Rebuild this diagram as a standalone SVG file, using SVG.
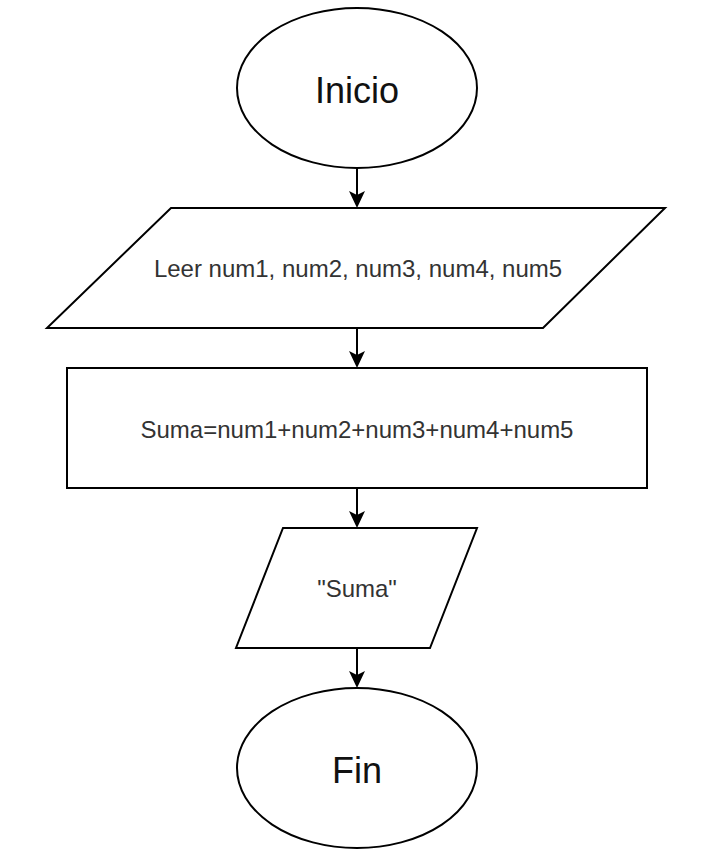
<svg xmlns="http://www.w3.org/2000/svg" width="724" height="868" viewBox="0 0 724 868">
  <style>
    .shape { fill: #ffffff; stroke: #000000; stroke-width: 2; }
    .edge { fill: none; stroke: #000000; stroke-width: 2; }
    .big { font-family: "Liberation Sans", Arial, sans-serif; font-size: 36px; fill: #111111; text-anchor: middle; }
    .small { font-family: "Liberation Sans", Arial, sans-serif; font-size: 24px; fill: #333333; text-anchor: middle; }
  </style>
  <defs>
    <marker id="arrow" viewBox="0 0 17 16" refX="9" refY="8" markerWidth="17" markerHeight="16" markerUnits="userSpaceOnUse" orient="auto">
      <path d="M0,0 L17,8 L0,16 L4,8 Z" fill="#000000"/>
    </marker>
  </defs>
  <rect x="0" y="0" width="724" height="868" fill="#ffffff"/>
  <g id="connectors">
    <line class="edge" x1="357" y1="168" x2="357" y2="200" marker-end="url(#arrow)"/>
    <line class="edge" x1="357" y1="328" x2="357" y2="360" marker-end="url(#arrow)"/>
    <line class="edge" x1="357" y1="488" x2="357" y2="520" marker-end="url(#arrow)"/>
    <line class="edge" x1="357" y1="648" x2="357" y2="680" marker-end="url(#arrow)"/>
  </g>
  <g id="inicio">
    <ellipse class="shape" cx="357" cy="88" rx="120" ry="80"/>
    <text class="big" x="357" y="103">Inicio</text>
  </g>
  <g id="leer">
    <polygon class="shape" points="171,208 665,208 543,328 47,328"/>
    <text class="small" x="358" y="277">Leer num1, num2, num3, num4, num5</text>
  </g>
  <g id="suma-proceso">
    <rect class="shape" x="67" y="368" width="580" height="120"/>
    <text class="small" x="357" y="438">Suma=num1+num2+num3+num4+num5</text>
  </g>
  <g id="salida">
    <polygon class="shape" points="283,528 477,528 430,648 236,648"/>
    <text class="small" x="357" y="597">"Suma"</text>
  </g>
  <g id="fin">
    <ellipse class="shape" cx="357" cy="768" rx="120" ry="80"/>
    <text class="big" x="357" y="783">Fin</text>
  </g>
</svg>
